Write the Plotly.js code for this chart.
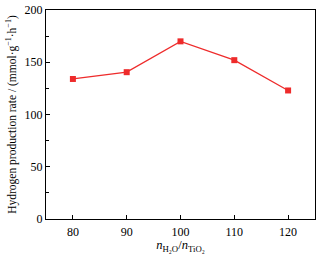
<!DOCTYPE html>
<html><head><meta charset="utf-8">
<script src="https://cdn.plot.ly/plotly-3.0.1.min.js"></script>
<style>html,body{margin:0;padding:0;background:#fff;}#c{width:336px;height:254px;}</style>
</head><body><div id="c"></div>
<script>
const ratios = [80, 90, 100, 110, 120];
const rates = [134, 140.5, 170, 152, 123];
const xTicks = [80, 90, 100, 110, 120];
const yTicks = [0, 50, 100, 150, 200];

const font = {family: '"Liberation Serif", "Times New Roman", serif', color: '#000', size: 12};
Plotly.newPlot('c', [{
  x: ratios, y: rates, type: 'scatter', mode: 'lines+markers',
  line: {color: '#ee2b2b', width: 1.3},
  marker: {symbol: 'square', size: 6, color: '#ee2b2b'}
}], {
  width: 336, height: 254,
  margin: {l: 46, r: 21, t: 10, b: 35},
  paper_bgcolor: '#fff', plot_bgcolor: '#fff',
  font: font, showlegend: false,
  xaxis: {
    range: [75, 125], tickvals: xTicks, ticks: 'inside', ticklen: 4, tickwidth: 1, tickcolor: '#000',
    showline: true, linecolor: '#000', linewidth: 1, mirror: true, showgrid: false, zeroline: false,
    tickfont: {size: 12}, ticklabelstandoff: 2,
    title: {text: '<i>n</i><sub>H₂O</sub>/<i>n</i><sub>TiO₂</sub>', font: {size: 12.5}, standoff: 2}
  },
  yaxis: {
    range: [0, 200], tickvals: yTicks, ticks: 'inside', ticklen: 4, tickwidth: 1, tickcolor: '#000',
    minor: {dtick: 25, ticks: 'inside', ticklen: 2.5, tickcolor: '#000', showgrid: false},
    showline: true, linecolor: '#000', linewidth: 1, mirror: true, showgrid: false, zeroline: false,
    tickfont: {size: 12},
    title: {text: 'Hydrogen production rate / (mmol·g<sup>−1</sup>·h<sup>−1</sup>)', font: {size: 11.5}, standoff: 5}
  }
}, {staticPlot: true});
</script></body></html>
